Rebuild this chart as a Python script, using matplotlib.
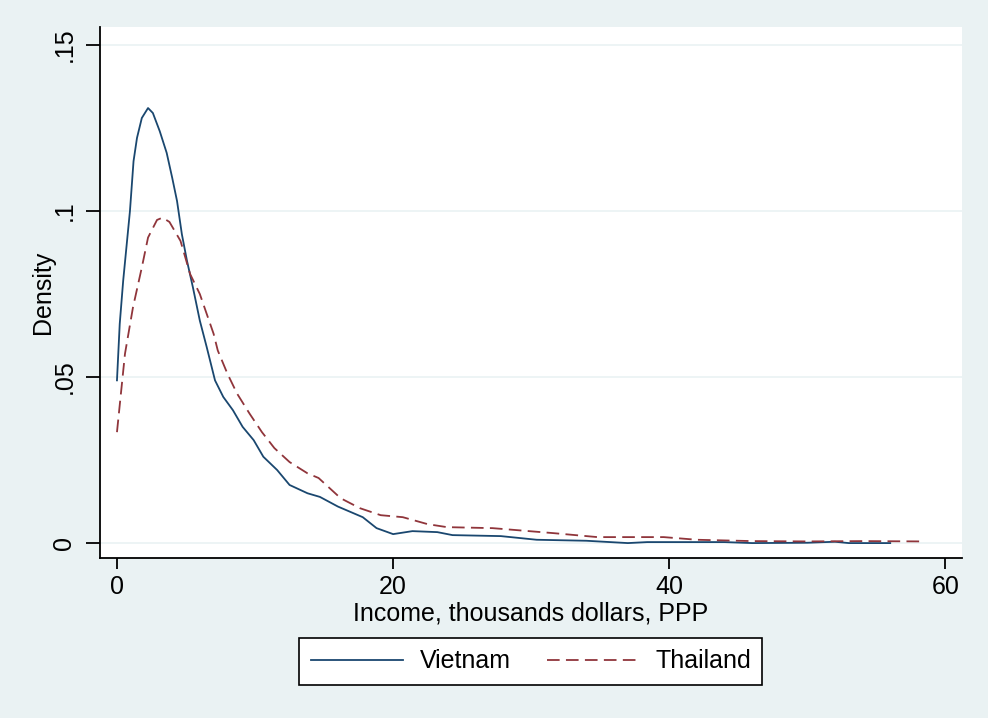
"""
Kernel density of income: Vietnam vs Thailand (Stata s2color look).
"""

import matplotlib
matplotlib.use("Agg")
import matplotlib.pyplot as plt

plt.rcParams["font.family"] = ["Liberation Sans", "DejaVu Sans"]

# Density curves (income in thousands, PPP).
vn_x = [0, 0.2, 0.45, 0.94, 1.2, 1.45, 1.8, 2.25, 2.6, 3.1, 3.6, 4.0, 4.35,
        4.7, 5.07, 5.5, 6.0, 6.5, 7.1, 7.7, 8.4, 9.1, 9.9, 10.6, 11.6, 12.5,
        13.8, 14.7, 16.0, 17.8, 18.8, 20.0, 21.4, 23.2, 24.3, 27.8, 30.4,
        34.0, 37.0, 38.4, 42.0, 44.0, 46.0, 50.0, 52.0, 53.0, 56.0]
vn_y = [0.049, 0.066, 0.079, 0.100, 0.115, 0.122, 0.128, 0.131, 0.1295,
        0.124, 0.1175, 0.110, 0.103, 0.093, 0.085, 0.077, 0.067, 0.059,
        0.049, 0.044, 0.040, 0.035, 0.031, 0.026, 0.022, 0.0175, 0.015,
        0.0139, 0.011, 0.0078, 0.0045, 0.0027, 0.0036, 0.0033, 0.0024,
        0.0021, 0.001, 0.0007, 0.0, 0.0003, 0.0003, 0.0003, 0.0, 0.0001,
        0.0004, 0.0, 0.0]

th_x = [0, 0.58, 1.16, 1.8, 2.25, 2.9, 3.3, 3.8, 4.6, 5.3, 6.0, 7.0, 7.3,
        8.0, 8.7, 9.6, 10.5, 11.4, 12.5, 13.8, 14.6, 16.2, 17.6, 19.1, 20.7,
        22.5, 23.9, 27.2, 31.6, 34.8, 39.6, 42.0, 46.0, 50.0, 54.0, 58.3]
th_y = [0.0334, 0.057, 0.071, 0.083, 0.092, 0.0973, 0.098, 0.0967, 0.091,
        0.081, 0.075, 0.063, 0.058, 0.051, 0.045, 0.039, 0.0334, 0.0286,
        0.0244, 0.021, 0.0196, 0.0135, 0.0105, 0.0084, 0.0078, 0.0057,
        0.0048, 0.0045, 0.003, 0.0018, 0.0018, 0.001, 0.0006, 0.0005,
        0.0006, 0.0005]

x_ticks = [0, 20, 40, 60]
y_ticks = [0, 0.05, 0.10, 0.15]
y_tick_labels = ["0", ".05", ".1", ".15"]

NAVY = "#1a476f"
MAROON = "#90353b"
BG = "#eaf2f3"

fig = plt.figure(figsize=(9.88, 7.18), dpi=100, facecolor=BG)
ax = fig.add_axes([0.1012, 0.2228, 0.8725, 0.7396])
ax.set_facecolor("white")

ax.plot(vn_x, vn_y, color=NAVY, lw=1.3, label="Vietnam")
ax.plot(th_x, th_y, color=MAROON, lw=1.3, dashes=(7, 3.5), label="Thailand")

ax.set_xlim(-1.23, 61.2)
ax.set_ylim(-0.0045, 0.1554)
ax.set_xticks(x_ticks)
ax.set_yticks(y_ticks)
ax.set_yticklabels(y_tick_labels, rotation=90, va="center")
ax.tick_params(axis="x", labelsize=18, length=8, width=1.3, pad=4)
ax.tick_params(axis="y", labelsize=18, length=10, width=1.3, pad=7)
ax.grid(axis="y", color=BG, lw=1.2)
ax.set_axisbelow(True)

for side in ("top", "right"):
    ax.spines[side].set_visible(False)
for side in ("left", "bottom"):
    ax.spines[side].set_linewidth(1.3)

ax.set_xlabel("Income, thousands dollars, PPP", fontsize=18, labelpad=2)
ax.set_ylabel("Density", fontsize=18, labelpad=-2)

leg = fig.legend(loc="center", bbox_to_anchor=(0.5374, 0.0787), ncol=2,
                 fontsize=18, frameon=True, fancybox=False, framealpha=1,
                 facecolor="white", handlelength=3.7, handletextpad=0.65,
                 columnspacing=1.45, borderpad=0.45)
leg.get_frame().set_edgecolor("black")
leg.get_frame().set_linewidth(1.2)

fig.savefig("out.png", dpi=100, facecolor=BG)
